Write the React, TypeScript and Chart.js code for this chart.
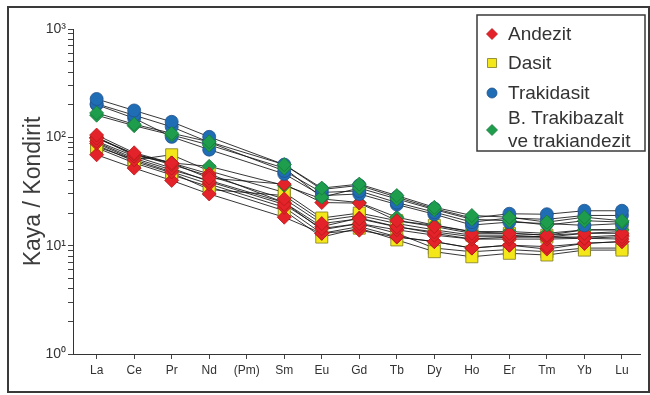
import React, { useEffect, useRef } from "react";
import { Chart, registerables } from "chart.js";

Chart.register(...registerables);

// ---------- data ----------
const elements = ["La", "Ce", "Pr", "Nd", "(Pm)", "Sm", "Eu", "Gd", "Tb", "Dy", "Ho", "Er", "Tm", "Yb", "Lu"];
const yTickLabels = ["10⁰", "10¹", "10²", "10³"];
const yTickValues = [1, 2, 3, 4, 5, 6, 7, 8, 9, 10, 20, 30, 40, 50, 60, 70, 80, 90, 100, 200, 300, 400, 500, 600, 700, 800, 900, 1000];
const groupNames = ["Andezit", "Dasit", "Trakidasit", "B. Trakibazalt|ve trakiandezit"];

// Andezit (red diamonds)
const andezit1 = [105, 72, 58, 42, null, 37, 25, 24.7, 17, 15, 13, 13, 12.5, 13, 13];
const andezit2 = [98, 70, 56, 44, null, 27, 16, 17.7, 14.9, 13.4, 12.1, 12.1, 12.1, 11.7, 12.1];
const andezit3 = [92, 67, 52, 39, null, 24, 14.4, 16, 14, 12.5, 11.5, 11.5, 11.5, 11.7, 11.5];
const andezit4 = [88, 62, 48, 37, null, 22.6, 13, 15, 12.1, 10.9, 9.5, 10.1, 9.8, 10.5, 10.9];
const andezit5 = [69, 52, 40, 30, null, 18.3, 13, 13.9, 12, 10.9, 9.5, 10.1, 9.3, 10.5, 10.9];
const andezit6 = [100, 68, 58, 46, null, 25, 15, 18, 15, 13, 11.5, 12, 12, 12, 12.5];

// Dasit (yellow squares)
const dasit1 = [82, 62, 69, 49, null, 31, 18, 20, 17, 15.4, 13.4, 13, 12.5, 14, 14];
const dasit2 = [85, 60, 47, 33, null, 29, 17, 19, 16, 14, 12.5, 12.5, 12, 13, 13.5];
const dasit3 = [80, 58, 45, 35, null, 21, 12, 14.5, 11.3, 8.8, 7.9, 8.5, 8.2, 9.1, 9.1];
const dasit4 = [90, 64, 50, 40, null, 25, 14, 16, 13, 9.5, 8.8, 9.2, 8.8, 9.5, 9.5];

// Trakidasit (blue circles)
const trakidasit1 = [226, 177, 139, 101, null, 56, 33, 36, 28, 22, 18, 19.7, 19.5, 21, 21];
const trakidasit2 = [204, 160, 125, 90, null, 49, 31, 32, 25, 20.4, 16.5, 18, 17.5, 19, 19];
const trakidasit3 = [200, 150, 101, 77, null, 46, 29, 30, 24, 19.5, 15.5, 16.5, 16, 15.4, 16];

// B. Trakibazalt ve trakiandezit (green diamonds)
const trakibazalt1 = [168, 132, 109, 91, null, 56, 34, 37, 29, 22.6, 19, 18.3, 16.5, 18.3, 17];
const trakibazalt2 = [160, 128, 105, 85, null, 52, 28, 34, 27, 21.5, 17.5, 17, 15.5, 17, 16.5];
const trakibazalt3 = [100, 70, 58, 54, null, 36, 27, 25, 18.3, 15.5, 13.5, 13.5, 13, 14, 14];

const andezitSamples = [andezit1, andezit2, andezit3, andezit4, andezit5, andezit6];
const dasitSamples = [dasit1, dasit2, dasit3, dasit4];
const trakidasitSamples = [trakidasit1, trakidasit2, trakidasit3];
const trakibazaltSamples = [trakibazalt1, trakibazalt2, trakibazalt3];

// ---------- styles ----------
const groupStyles = [
  { samples: andezitSamples, pointStyle: "rectRot", radius: 7, fill: "#e4222a", border: "#b51a1a", orders: [3, 3, 3, 3, 3, 3] },
  { samples: dasitSamples, pointStyle: "rect", radius: 8.5, fill: "#f3e71a", border: "#7f7a22", orders: [4, 4, 4, 4] },
  { samples: trakidasitSamples, pointStyle: "circle", radius: 6.5, fill: "#1f6db4", border: "#22528c", orders: [2, 2, 2] },
  { samples: trakibazaltSamples, pointStyle: "rectRot", radius: 7, fill: "#1e9e4c", border: "#187a3a", orders: [1, 1, 3.5] },
];

function toXY(sample: (number | null)[]) {
  return sample.map((v, i) => ({ x: i, y: v }));
}

const framePlugin = {
  id: "frame",
  afterDraw(chart: any) {
    const ctx = chart.ctx;
    ctx.save();
    ctx.strokeStyle = "#3a3a3a";
    ctx.lineWidth = 2;
    ctx.strokeRect(8, 7, 641, 385);
    ctx.restore();
  },
};

function drawMarker(ctx: CanvasRenderingContext2D, style: string, x: number, y: number, r: number) {
  ctx.beginPath();
  if (style === "circle") {
    ctx.arc(x, y, r, 0, Math.PI * 2);
  } else if (style === "rect") {
    ctx.rect(x - r, y - r, 2 * r, 2 * r);
  } else {
    ctx.moveTo(x, y - r);
    ctx.lineTo(x + r, y);
    ctx.lineTo(x, y + r);
    ctx.lineTo(x - r, y);
    ctx.closePath();
  }
  ctx.fill();
  ctx.stroke();
}

const legendPlugin = {
  id: "boxLegend",
  afterDraw(chart: any) {
    const ctx = chart.ctx as CanvasRenderingContext2D;
    ctx.save();
    ctx.fillStyle = "#ffffff";
    ctx.fillRect(477, 15, 168, 136);
    ctx.strokeStyle = "#3a3a3a";
    ctx.lineWidth = 1.5;
    ctx.strokeRect(477, 15, 168, 136);
    const rows = [34, 63, 93, 130];
    const markerR = [5.5, 4.5, 5, 5.5];
    ctx.font = "19px 'Liberation Sans', Arial, sans-serif";
    ctx.textBaseline = "middle";
    groupNames.forEach((name, i) => {
      const st = groupStyles[i];
      ctx.fillStyle = st.fill;
      ctx.strokeStyle = st.border;
      ctx.lineWidth = 0.8;
      drawMarker(ctx, st.pointStyle, 492, rows[i], markerR[i]);
      ctx.fillStyle = "#333333";
      const lines = name.split("|");
      if (lines.length === 1) {
        ctx.fillText(lines[0], 508, rows[i] + 1);
      } else {
        ctx.fillText(lines[0], 508, rows[i] - 11);
        ctx.fillText(lines[1], 508, rows[i] + 12);
      }
    });
    ctx.restore();
  },
};

export default function App() {
  const ref = useRef<HTMLCanvasElement | null>(null);

  useEffect(() => {
    if (!ref.current) return;
    const datasets: any[] = [];
    groupStyles.forEach((g) => {
      g.samples.forEach((s) => {
        datasets.push({
          data: toXY(s),
          showLine: true,
          spanGaps: true,
          borderColor: "rgba(20,20,20,0.85)",
          borderWidth: 1,
          pointRadius: 0,
          order: 10,
        });
      });
    });
    groupStyles.forEach((g) => {
      g.samples.forEach((s, k) => {
        datasets.push({
          data: toXY(s),
          showLine: false,
          pointStyle: g.pointStyle,
          pointRadius: g.radius,
          pointBackgroundColor: g.fill,
          pointBorderColor: g.border,
          pointBorderWidth: 0.8,
          order: g.orders[k],
        });
      });
    });

    const chart = new Chart(ref.current, {
      type: "scatter",
      data: { datasets },
      plugins: [framePlugin, legendPlugin],
      options: {
        animation: false,
        responsive: false,
        events: [],
        layout: { padding: { left: 8, top: 29, right: 1, bottom: 0 } },
        plugins: { legend: { display: false }, tooltip: { enabled: false } },
        scales: {
          x: {
            type: "linear",
            min: -0.63,
            max: 14.5,
            afterBuildTicks: (scale: any) => {
              scale.ticks = elements.map((_, i) => ({ value: i }));
            },
            afterFit: (scale: any) => {
              scale.height = 41;
            },
            ticks: {
              autoSkip: false,
              maxRotation: 0,
              padding: 4,
              color: "#333",
              font: { family: "'Liberation Sans', Arial, sans-serif", size: 12 },
              callback: (v: any) => elements[v] ?? "",
            },
            grid: { display: true, drawOnChartArea: false, drawTicks: true, tickLength: 5, color: "#444" },
            border: { display: true, color: "#333", width: 1 },
          },
          y: {
            type: "logarithmic",
            min: 1,
            max: 1000,
            afterBuildTicks: (scale: any) => {
              scale.ticks = yTickValues.map((v) => ({ value: v }));
            },
            afterFit: (scale: any) => {
              scale.width = 65;
            },
            ticks: {
              autoSkip: false,
              padding: 2,
              color: "#333",
              font: { family: "'Liberation Sans', Arial, sans-serif", size: 14 },
              callback: (v: any) => {
                const l = Math.log10(Number(v));
                const r = Math.round(l);
                return Math.abs(l - r) < 1e-9 ? yTickLabels[r] ?? "" : "";
              },
            },
            grid: { display: true, drawOnChartArea: false, drawTicks: true, tickLength: 5, color: "#444" },
            border: { display: true, color: "#333", width: 1 },
            title: {
              display: true,
              text: "Kaya / Kondirit",
              color: "#3c3c3c",
              padding: { top: 12, bottom: 0 },
              font: { family: "'Liberation Sans', Arial, sans-serif", size: 23 },
            },
          },
        },
      },
    } as any);
    return () => chart.destroy();
  }, []);

  return (
    <div style={{ position: "absolute", left: 0, top: 0, width: 650, height: 395, background: "#fff" }}>
      <canvas ref={ref} width={650} height={395} style={{ width: 650, height: 395, display: "block" }} />
    </div>
  );
}
